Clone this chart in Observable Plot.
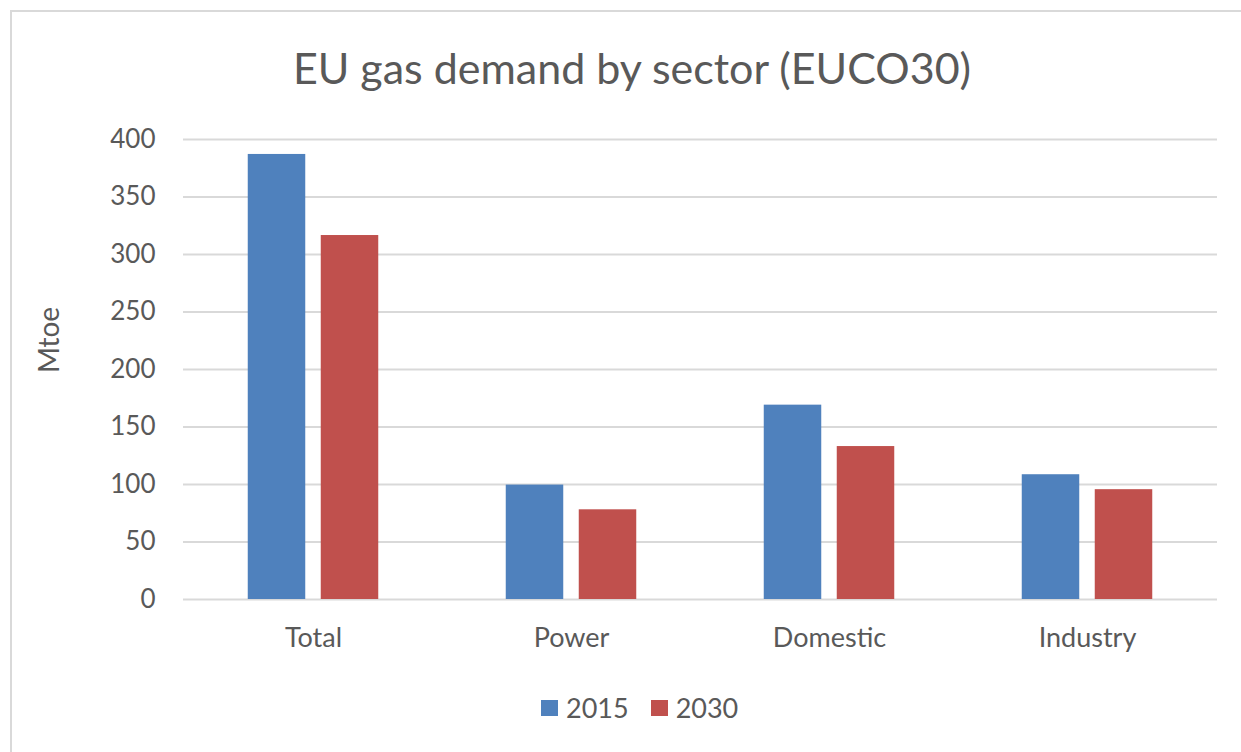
<!DOCTYPE html>
<html>
<head>
<meta charset="utf-8">
<script src="https://cdn.jsdelivr.net/npm/d3@7"></script>
<script src="https://cdn.jsdelivr.net/npm/@observablehq/plot@0.6"></script>
<style>
  html, body { margin: 0; padding: 0; background: #fff; }
  #wrap { position: relative; width: 1241px; height: 752px; overflow: hidden; font-family: Lato, "Open Sans", sans-serif; color: #595959; }
  #frame { position: absolute; left: 10px; top: 10px; width: 1300px; height: 800px; border-top: 2px solid #d9d9d9; border-left: 2px solid #d9d9d9; }
  #title { position: absolute; left: 0; top: 46px; width: 1264px; text-align: center; font-size: 43px; line-height: 43px; white-space: nowrap; }
  #ylabel { position: absolute; left: 48px; top: 340px; transform: translate(-50%, -50%) rotate(-90deg); font-size: 28px; line-height: 28px; white-space: nowrap; }
  #chart { position: absolute; left: 0; top: 110px; }
  #legend { position: absolute; left: 541px; top: 693px; display: flex; align-items: center; font-size: 27px; line-height: 30px; }
  #legend .sw { width: 17px; height: 16px; margin-right: 8px; }
  #legend .item { display: flex; align-items: center; margin-right: 22px; }
</style>
</head>
<body>
<div id="wrap">
  <div id="frame"></div>
  <div id="title"></div>
  <div id="ylabel"></div>
  <div id="chart"></div>
  <div id="legend"></div>
</div>
<script>
const chartTitle = "EU gas demand by sector (EUCO30)";
const yAxisLabel = "Mtoe";
const sectors = ["Total", "Power", "Domestic", "Industry"];
const years = ["2015", "2030"];
const values2015 = [387, 99.5, 169, 108.5];
const values2030 = [316.5, 78, 133, 95.5];
const yTicks = [0, 50, 100, 150, 200, 250, 300, 350, 400];
const colors = ["#4F81BD", "#C0504D"];

const seriesValues = [values2015, values2030];
const rows = [];
years.forEach((yr, i) => sectors.forEach((s, j) => rows.push({sector: s, year: yr, value: seriesValues[i][j]})));

document.getElementById("title").textContent = chartTitle;
document.getElementById("ylabel").textContent = yAxisLabel;

const barWidth = 58, barGap = 15;
const bandW = 1217 - 183;
const step = bandW / sectors.length;
const inset = (step - barWidth) / 2;
const offset = (barWidth + barGap) / 2;

const plot = Plot.plot({
  width: 1241,
  height: 560,
  marginLeft: 183,
  marginRight: 24,
  marginTop: 29,
  marginBottom: 71,
  style: { fontFamily: "Lato, 'Open Sans', sans-serif", fontSize: "26px", color: "#595959", background: "transparent" },
  x: { domain: sectors, padding: 0 },
  y: { domain: [0, 400] },
  color: { domain: years, range: colors },
  marks: [
    Plot.ruleY(yTicks, { stroke: "#d9d9d9", strokeWidth: 2 }),
    ...years.map((yr, i) => Plot.barY(rows.filter(d => d.year === yr), {
      x: "sector", y: "value", fill: "year",
      insetLeft: inset, insetRight: inset,
      dx: i === 0 ? -offset : offset
    })),
    Plot.axisY({ ticks: yTicks, tickSize: 0, tickPadding: 28, label: null, fontSize: 26 }),
    Plot.axisX({ tickSize: 0, tickPadding: 28, label: null, fontSize: 27 })
  ]
});
document.getElementById("chart").appendChild(plot);

const legend = document.getElementById("legend");
years.forEach((yr, i) => {
  const item = document.createElement("div");
  item.className = "item";
  const sw = document.createElement("div");
  sw.className = "sw";
  sw.style.background = colors[i];
  const t = document.createElement("span");
  t.textContent = yr;
  item.appendChild(sw); item.appendChild(t);
  legend.appendChild(item);
});
</script>
</body>
</html>
